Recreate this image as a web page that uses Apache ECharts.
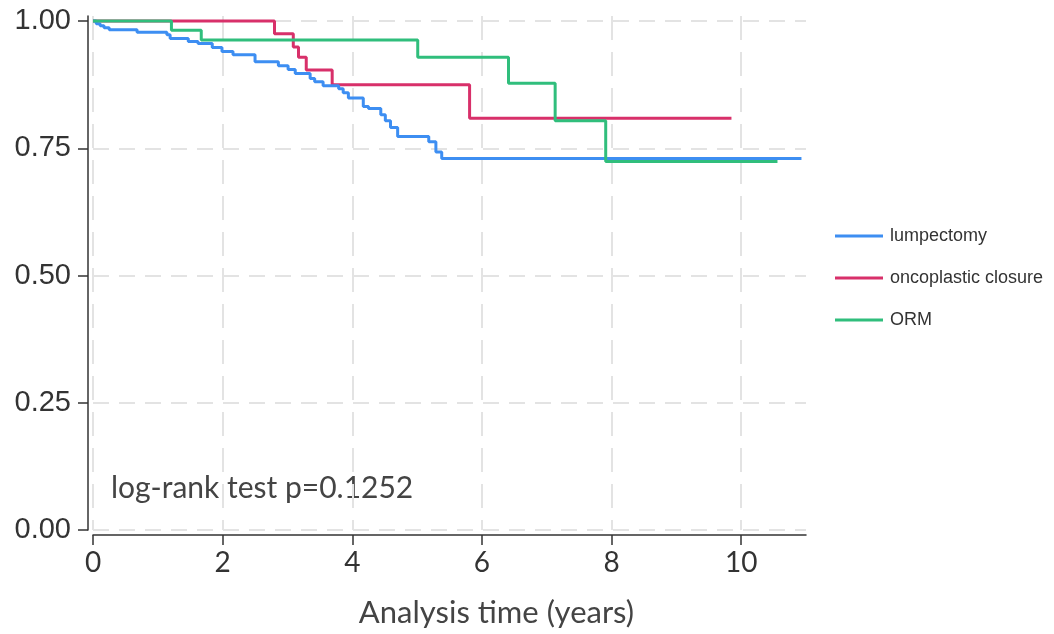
<!DOCTYPE html>
<html>
<head>
<meta charset="utf-8">
<script src="https://cdn.jsdelivr.net/npm/echarts@6/dist/echarts.min.js"></script>
<style>
  html, body { margin: 0; padding: 0; background: #fff; }
  #main { width: 1054px; height: 634px; }
</style>
</head>
<body>
<div id="main"></div>
<script>
// survival curves (time in years, step value after each drop)
var lumpTimes = [0, 0.05, 0.11, 0.17, 0.25, 0.68, 1.14, 1.19, 1.47, 1.62, 1.84, 1.99, 2.16, 2.50, 2.86, 3.01, 3.12, 3.35, 3.42, 3.55, 3.79, 3.86, 3.94, 4.17, 4.25, 4.44, 4.51, 4.59, 4.70, 5.18, 5.29, 5.38, 10.93];
var lumpSurv  = [1, 0.995, 0.991, 0.987, 0.983, 0.978, 0.973, 0.966, 0.960, 0.956, 0.948, 0.940, 0.934, 0.920, 0.912, 0.905, 0.897, 0.887, 0.881, 0.873, 0.867, 0.859, 0.849, 0.832, 0.828, 0.816, 0.804, 0.791, 0.773, 0.763, 0.743, 0.730, 0.730];

var oncoTimes = [0, 2.80, 3.09, 3.17, 3.29, 3.69, 5.81, 9.85];
var oncoSurv  = [1, 0.975, 0.949, 0.929, 0.904, 0.875, 0.809, 0.809];

var ormTimes = [0, 1.21, 1.67, 5.01, 6.41, 7.13, 7.91, 10.56];
var ormSurv  = [1, 0.982, 0.963, 0.929, 0.878, 0.804, 0.724, 0.724];

var seriesNames = ['lumpectomy', 'oncoplastic closure', 'ORM'];
var xTicks = [0, 2, 4, 6, 8, 10];
var yTicks = [0, 0.25, 0.5, 0.75, 1];
var pText = 'log-rank test p=0.1252';

function pairs(xs, ys) {
  var out = [];
  for (var i = 0; i < xs.length; i++) out.push([xs[i], ys[i]]);
  return out;
}

var chart = echarts.init(document.getElementById('main'), null, { renderer: 'canvas' });

var gridDash = { color: '#e3e3e3', width: 2, type: [16, 10] };

var option = {
  animation: false,
  backgroundColor: '#fff',
  grid: { left: 93, right: 248, top: 16, bottom: 104 },
  legend: {
    orient: 'vertical',
    left: 830,
    top: 222,
    icon: 'rect',
    itemWidth: 48,
    itemHeight: 3,
    itemGap: 24,
    textStyle: { fontFamily: 'Liberation Sans', fontSize: 18, color: '#333', padding: [0, 0, 0, 2] },
    data: seriesNames
  },
  xAxis: {
    type: 'value',
    min: 0,
    max: 11,
    offset: 5,
    name: 'Analysis time (years)',
    nameLocation: 'middle',
    nameGap: 62,
    nameTextStyle: { fontFamily: 'Lato', fontSize: 31, color: '#444', padding: [0, 0, 0, 94] },
    axisLine: { onZero: false, lineStyle: { color: '#333', width: 1.5 } },
    axisTick: { length: 10, customValues: xTicks, lineStyle: { color: '#333', width: 1.5 } },
    axisLabel: { customValues: xTicks, margin: 14, fontFamily: 'Lato', fontSize: 28, color: '#333' },
    splitLine: { show: true, lineStyle: { color: '#e3e3e3', width: 2, type: [24, 12] } }
  },
  yAxis: {
    type: 'value',
    min: 0,
    max: 1.01,
    offset: 5,
    axisLine: { onZero: false, lineStyle: { color: '#333', width: 1.5 } },
    axisTick: { length: 10, customValues: yTicks, lineStyle: { color: '#333', width: 1.5 } },
    axisLabel: {
      customValues: yTicks, margin: 17, fontFamily: 'Liberation Sans', fontSize: 29, color: '#333',
      formatter: function (v) { return v.toFixed(2); }
    },
    splitLine: { show: true, lineStyle: gridDash }
  },
  graphic: [{
    type: 'text',
    left: 111,
    top: 473,
    style: { text: pText, fontFamily: 'Lato', fontSize: 30, fill: '#444' }
  }],
  series: [
    {
      name: seriesNames[0], type: 'line', step: 'end', symbol: 'none',
      lineStyle: { color: '#3d8ef2', width: 3 }, itemStyle: { color: '#3d8ef2' },
      data: pairs(lumpTimes, lumpSurv), z: 3
    },
    {
      name: seriesNames[1], type: 'line', step: 'end', symbol: 'none',
      lineStyle: { color: '#d8306a', width: 3 }, itemStyle: { color: '#d8306a' },
      data: pairs(oncoTimes, oncoSurv), z: 2
    },
    {
      name: seriesNames[2], type: 'line', step: 'end', symbol: 'none',
      lineStyle: { color: '#30be7c', width: 3 }, itemStyle: { color: '#30be7c' },
      data: pairs(ormTimes, ormSurv), z: 4
    }
  ]
};

chart.setOption(option);
</script>
</body>
</html>
